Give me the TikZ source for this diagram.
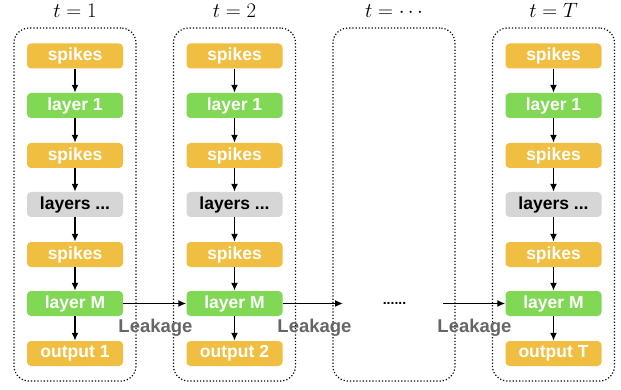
\documentclass[tikz,border=0pt]{standalone}
\usepackage[no-math]{fontspec}
\newfontfamily\hv{Liberation Sans}
\usetikzlibrary{arrows.meta}
\definecolor{cOrange}{HTML}{F0BE41}
\definecolor{cGreen}{HTML}{80D855}
\definecolor{cGray}{HTML}{D6D6D6}
\definecolor{cLeak}{HTML}{666666}
\begin{document}
\begin{tikzpicture}[x=1pt,y=-1pt,
 blk/.style={rounded corners=4pt, minimum width=96pt, minimum height=25pt, inner sep=0pt, font=\hv\bfseries\fontsize{17.5}{19}\selectfont, text=white},
 sp/.style={blk, fill=cOrange},
 ly/.style={blk, fill=cGreen},
 ls/.style={blk, fill=cGray, text=black},
 frame/.style={draw, dotted, line width=1.2pt, rounded corners=15pt, minimum width=122pt, minimum height=353pt, inner sep=0pt},
 arr/.style={-{Latex[length=8pt,width=7pt]}, line width=1.7pt},
 lk/.style={font=\hv\bfseries\fontsize{18.5}{20}\selectfont, text=cLeak, inner sep=0pt},
 ttl/.style={font=\fontsize{21}{24}\selectfont, inner sep=0pt, anchor=base}
]
\useasboundingbox (0,0) rectangle (621,390);
\foreach \c/\x/\o in {1/75/1, 2/234.5/2, 4/553.5/T}{
  \node[frame] (f\c) at (\x,204.5) {};
  \node[ttl] (t\c) at (\x,18) {$t=\o$};
  \node[sp] (a\c) at (\x,56) {spikes};
  \node[ly] (b\c) at (\x,105.5) {layer 1};
  \node[sp] (c\c) at (\x,155.5) {spikes};
  \node[ls] (d\c) at (\x,204.5) {layers ...};
  \node[sp] (e\c) at (\x,254.5) {spikes};
  \node[ly] (m\c) at (\x,303.5) {layer M};
  \node[sp] (o\c) at (\x,353.5) {output \o};
  \draw[arr] (a\c) -- (b\c);
  \draw[arr] (b\c) -- (c\c);
  \draw[arr] (c\c) -- (d\c);
  \draw[arr] (d\c) -- (e\c);
  \draw[arr] (e\c) -- (m\c);
  \draw[arr] (m\c) -- (o\c);
}
\node[frame] (f3) at (394,204.5) {};
\node[ttl] (t3) at (394,18) {$t=\cdots$};
\node[font=\hv\bfseries\fontsize{14}{16}\selectfont, inner sep=0pt] (dots) at (394.5,303) {......};
\coordinate (p3a) at (343,303.5);
\coordinate (p3b) at (443,303.5);
\draw[arr] (m1) -- (m2);
\draw[arr] (m2.east) -- (p3a);
\draw[arr] (p3b) -- (m4.west);
\node[lk] (l1) at (155.5,328) {Leakage};
\node[lk] (l2) at (314.5,328) {Leakage};
\node[lk] (l3) at (474.5,328) {Leakage};
\end{tikzpicture}
\end{document}
